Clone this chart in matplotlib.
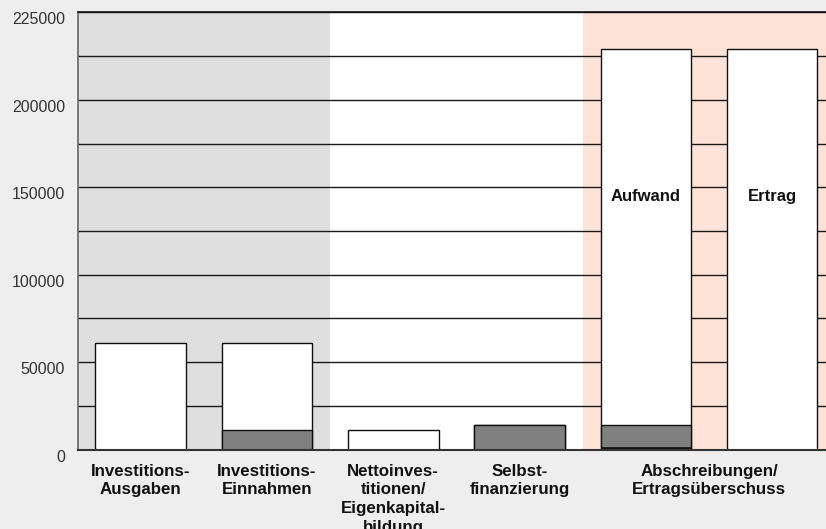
"""
Investitionen / Abschreibungen - Balkendiagramm
Nachbau als matplotlib-Skript, Ausgabe: out.png
"""

import matplotlib
matplotlib.use("Agg")
import matplotlib.pyplot as plt

# ---------------------------------------------------------------------------
# Daten
# ---------------------------------------------------------------------------
categories = [
    "Investitions-\nAusgaben",
    "Investitions-\nEinnahmen",
    "Nettoinves-\ntitionen/\nEigenkapital-\nbildung",
    "Selbst-\nfinanzierung",
    "Abschreibungen/\nErtragsüberschuss",
]
cat_pos = [0, 1, 2, 3, 4.5]

bar_pos = [0, 1, 2, 3, 4, 5]
white_total = [60900, 60900, 11100, 14000, 229000, 229000]
gray_part = [0, 11100, 0, 14000, 14000, 0]
black_part = [0, 0, 0, 0, 1700, 0]

bar_texts = ["", "", "", "", "Aufwand", "Ertrag"]
bar_text_y = 145000

ytick_vals = [0, 50000, 100000, 150000, 200000, 250000]
ytick_labels = ["0", "50000", "100000", "150000", "200000", "225000"]
grid_vals = [0, 25000, 50000, 75000, 100000, 125000, 150000, 175000,
             200000, 225000, 250000]

# Hintergrundbereiche (von, bis, Farbe)
bands = [(-0.5, 1.5, "#dfdfdf"), (1.5, 3.5, "#ffffff"), (3.5, 6.0, "#fce3d6")]

# ---------------------------------------------------------------------------
# Plot
# ---------------------------------------------------------------------------
plt.rcParams["font.family"] = ["Liberation Sans", "DejaVu Sans"]

fig = plt.figure(figsize=(8.26, 5.29), dpi=100, facecolor="#eeeeee")
W, H = 826, 529
ax_left, ax_bottom, ax_top = 77.5, 449.7, 12.3
ax = fig.add_axes([ax_left / W, 1 - ax_bottom / H, 1 - ax_left / W,
                   (ax_bottom - ax_top) / H])
ax.set_facecolor("white")

px_per_unit = 126.3
ax.set_xlim(-0.5, (W - ax_left) / px_per_unit - 0.5)
ax.set_ylim(0, 250000)

for x0, x1, col in bands:
    ax.axvspan(x0, x1, color=col, zorder=0, lw=0)

for g in grid_vals:
    ax.axhline(g, color="#1a1a1a", lw=1.0, zorder=1)

bw = 0.718
ax.bar(bar_pos, white_total, width=bw, color="white", edgecolor="#111111",
       linewidth=1.0, zorder=2)
ax.bar([p for p, g in zip(bar_pos, gray_part) if g > 0],
       [g for g in gray_part if g > 0], width=bw, color="#808080",
       edgecolor="#111111", linewidth=1.0, zorder=3)
ax.bar([p for p, b in zip(bar_pos, black_part) if b > 0],
       [b for b in black_part if b > 0], width=bw, color="#111111",
       edgecolor="#111111", linewidth=0.5, zorder=4)

for p, t in zip(bar_pos, bar_texts):
    if t:
        ax.text(p, bar_text_y, t, ha="center", va="center", fontsize=12,
                fontweight="bold", color="#111111", zorder=5)

# Achsen
ax.set_yticks(ytick_vals)
ax.set_yticklabels(ytick_labels, fontsize=11.5, color="#333333")
for lbl in ax.get_yticklabels():
    lbl.set_va("top")
ax.tick_params(axis="y", length=0, pad=9)

ax.set_xticks(cat_pos)
ax.set_xticklabels(categories, fontsize=12.2, fontweight="bold",
                   color="#111111", linespacing=1.32)
ax.tick_params(axis="x", length=0, pad=10)

ax.spines["right"].set_visible(False)
ax.spines["top"].set_color("#111111")
ax.spines["top"].set_linewidth(1.2)
ax.spines["left"].set_color("#666666")
ax.spines["left"].set_linewidth(1.2)
ax.spines["bottom"].set_color("#333333")
ax.spines["bottom"].set_linewidth(1.5)
ax.spines["bottom"].set_zorder(6)

plt.savefig("out.png", dpi=100, facecolor=fig.get_facecolor())
plt.close()
